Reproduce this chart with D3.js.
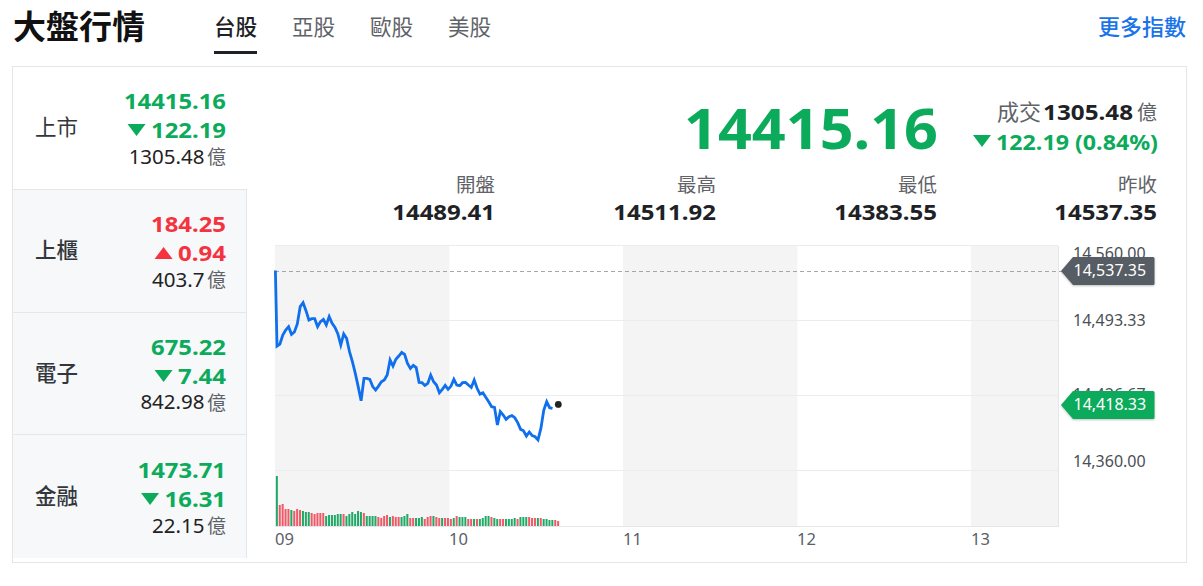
<!DOCTYPE html>
<html lang="zh-Hant"><head><meta charset="utf-8">
<script src="https://cdn.jsdelivr.net/npm/d3@7/dist/d3.min.js"></script>
<style>
html,body{margin:0;padding:0;background:#fff;overflow:hidden}
svg{display:block}
text{font-family:"Noto Sans","Noto Sans CJK TC",sans-serif}
</style></head><body><svg id="c" width="1203" height="586"></svg>
<script>
const tabs=["台股","亞股","歐股","美股"];
const markets=["上市","上櫃","電子","金融"];
const marketValues=["14415.16","184.25","675.22","1473.71"];
const marketChanges=["122.19","0.94","7.44","16.31"];
const marketDirections=["down","up","down","down"];
const marketTurnover=["1305.48","403.7","842.98","22.15"];
const statLabels=["開盤","最高","最低","昨收"];
const statValues=["14489.41","14511.92","14383.55","14537.35"];
const hourLabels=["09","10","11","12","13"];
const hourMinutes=[0,60,120,180,240];
const yTicks=[14560,14493.33,14426.67,14360];
const prevClose=14537.35;
const lastPrice=14418.33;
const prices=[14537.35,14470.2,14472.0,14480.0,14484.4,14487.4,14480.6,14482.7,14489.8,14505.2,14508.7,14501.6,14493.3,14494.5,14494.5,14487.4,14491.9,14493.9,14488.9,14496.3,14490.4,14486.8,14480.9,14471.1,14480.9,14477.0,14465.2,14456.3,14445.9,14434.1,14421.6,14441.4,14441.4,14440.6,14434.1,14431.1,14434.6,14438.5,14440.0,14444.4,14457.8,14452.4,14458.4,14461.3,14464.6,14462.8,14454.8,14450.3,14453.0,14451.0,14437.9,14437.6,14435.2,14437.0,14444.4,14438.5,14435.5,14428.7,14431.7,14435.2,14431.7,14434.6,14440.6,14435.5,14434.9,14437.6,14437.9,14435.5,14433.4,14440.0,14432.6,14427.5,14428.7,14424.6,14420.7,14416.3,14415.7,14400.0,14411.9,14408.9,14405.0,14407.4,14408.3,14406.5,14402.1,14396.1,14394.9,14390.2,14393.8,14390.5,14389.6,14386.7,14397.0,14413.3,14420.7,14415.4,14414.8];
const volumes=[50,21,22,17,17,16,15,17,16,15,14,14,13,12,13,13,13,10,11,11,11,12,12,12,10,12,14,12,15,14,13,10,10,10,10,9,8,10,11,9,10,9,9,9,10,12,8,8,8,8,9,7,9,10,10,9,8,8,8,8,7,8,10,9,9,9,7,7,7,7,7,8,10,10,9,8,7,7,7,7,7,7,8,7,9,9,9,9,8,8,8,8,7,7,6,6,6,5];
const volumeSides=["g","r","r","r","r","g","r","r","r","g","g","g","r","r","r","r","r","g","g","g","g","g","g","r","g","g","g","g","g","g","r","g","g","g","g","r","r","r","r","g","r","r","r","g","g","g","r","r","g","g","g","r","r","r","g","r","r","g","r","r","r","g","r","g","g","g","r","r","g","r","g","g","g","g","r","g","g","r","r","g","g","g","g","r","g","g","g","r","r","r","g","r","g","g","g","g","r","r"];

const GREEN="#0cab5c",RED="#f5333f",INK="#1e2226",GREY="#5f6368";
const svg=d3.select("#c");
// sp widens a number's glyphs by sp pixels per character, as the reference's wider digits
const T=(s,x,y,size,fill,weight,anchor,sp)=>{
  const t=svg.append("text").attr("x",x).attr("y",y).attr("font-size",size).attr("fill",fill).attr("font-weight",weight||400).attr("text-anchor",anchor||"start").text(s);
  let w=t.node().getComputedTextLength();
  if(sp){w+=sp*s.length;t.attr("textLength",w).attr("lengthAdjust","spacingAndGlyphs");}
  t.width=w;return t;};
const tri=(cx,cy,w,h,up,fill)=>svg.append("path").attr("d",up?`M${cx-w/2},${cy+h/2}L${cx+w/2},${cy+h/2}L${cx},${cy-h/2}Z`:`M${cx-w/2},${cy-h/2}L${cx+w/2},${cy-h/2}L${cx},${cy+h/2}Z`).attr("fill",fill);

// header
T("大盤行情",13,38.5,33,"#111",700);
const tabX=d3.scalePoint().domain(tabs).range([214,448]);
tabs.forEach((t,i)=>T(t,tabX(t),34.5,21.5,i?GREY:INK,i?400:500));
svg.append("rect").attr("x",214).attr("y",51).attr("width",43).attr("height",3).attr("fill",INK);
T("更多指數",1186,34.5,22,"#1a73e8",500,"end");

// frame
svg.append("rect").attr("x",12.5).attr("y",66.5).attr("width",1174).attr("height",496).attr("fill","#fff").attr("stroke","#e4e6ea");
const rowTops=[67,190,313,435,558];
markets.forEach((m,i)=>{
  const y0=rowTops[i],y1=rowTops[i+1];
  if(i>0){
    svg.append("rect").attr("x",13).attr("y",y0).attr("width",233.5).attr("height",y1-y0).attr("fill","#f6f8fa");
    svg.append("path").attr("d",`M13,${y0-.5}H247`).attr("stroke","#e4e6ea");
    svg.append("path").attr("d",`M246.5,${y0-1}V${y1}`).attr("stroke","#e4e6ea");
  }
  const b=y0+(i==3?1:0);
  const col=marketDirections[i]=="up"?RED:GREEN;
  T(m,35,b+68,21.5,"#33373b",i?500:400);
  T(marketValues[i],226,b+42,21,col,700,"end",1.5);
  const ch=T(marketChanges[i],226,b+71,21,col,700,"end",1.5);
  tri(226-ch.width-14.5,b+63,18,12,marketDirections[i]=="up",col);
  T("億",226,b+97,19,GREY,400,"end");
  T(marketTurnover[i],204.5,b+(i==2?96:97),20.5,"#222",400,"end");
});

// quote
T("14415.16",938,148.5,56,GREEN,700,"end",1.75);
T("億",1157,120,20,GREY,400,"end");
T("1305.48",1133,120,21,INK,700,"end",1.7);
T("成交",1041,120,22,GREY,400,"end");
T("122.19 (0.84%)",1158,150,21,GREEN,700,"end",1.1);
tri(982,141,18,12,false,GREEN);
const statX=[495,716,937,1157];
statLabels.forEach((s,i)=>{T(s,statX[i],192,19.5,GREY,400,"end");T(statValues[i],statX[i],220,21,INK,700,"end",1.6);});

// chart
const x=d3.scaleLinear().domain([0,270]).range([275.4,1058.4]);
const y=d3.scaleLinear().domain([14360,14560]).range([470,245]);
const v=d3.scaleLinear().domain([0,50]).range([526,476]);
[[0,60],[120,180],[240,270]].forEach(([a,b])=>svg.append("rect").attr("x",x(a)-.4).attr("y",246).attr("width",x(b)-x(a)+.4).attr("height",281).attr("fill","#f4f4f5"));
svg.selectAll(".gl").data(yTicks).join("line").attr("x1",275).attr("x2",1058).attr("y1",d=>y(d)+.5).attr("y2",d=>y(d)+.5).attr("stroke","#ebecee");
svg.append("line").attr("x1",275).attr("x2",1058).attr("y1",526.5).attr("y2",526.5).attr("stroke","#e4e6ea");
svg.append("line").attr("x1",1058.5).attr("x2",1058.5).attr("y1",246).attr("y2",527).attr("stroke","#e4e6ea");
// y ticks: label offsets from their gridlines, as the reference staggers them
const fmt=d3.format(",.2f");
const tickOffset=d3.scaleOrdinal().domain(yTicks).range([14,6,5,-3]);
svg.selectAll(".yl").data(yTicks).join("text").attr("x",1073).attr("y",d=>y(d)+tickOffset(d)).attr("font-size",16).attr("fill","#4a4f55").text(fmt);
// x ticks
hourLabels.forEach((h,i)=>T(h,x(hourMinutes[i])-.4,545,15.5,"#5a6066",400,"start",0.6));
// volume
svg.selectAll(".vb").data(volumes).join("rect").attr("x",(d,i)=>x(i+.5)-1).attr("y",d=>v(d)).attr("width",2).attr("height",d=>v(0)-v(d)).attr("fill",(d,i)=>volumeSides[i]=="g"?"#1fa866":"#ee5a66");
// prev close
svg.append("line").attr("x1",275).attr("x2",1062).attr("y1",271.5).attr("y2",271.5).attr("stroke","#a3a6aa").attr("stroke-dasharray","4,3");
// price line
const lineMinutes=prices.map((p,i)=>i==0?0:i-.45);
svg.append("path").datum(prices).attr("fill","none").attr("stroke","#0f6fec").attr("stroke-width",2.8).attr("stroke-linejoin","miter")
 .attr("d",d3.line().x((d,i)=>x(lineMinutes[i])).y(d=>y(d)));
svg.append("circle").attr("cx",x(lineMinutes[prices.length-1]+2)).attr("cy",y(lastPrice)).attr("r",3.4).attr("fill","#222");
// price tags
const tag=(val,fill)=>{
  const c=y(val)+.5;
  svg.append("path").attr("d",`M1061,${c}L1073,${c-14}H1153a1.5,1.5 0 0 1 1.5,1.5V${c+12.5}a1.5,1.5 0 0 1 -1.5,1.5H1073Z`).attr("fill",fill).style("filter","drop-shadow(0 1px 1px rgba(0,0,0,.25))");
  T(fmt(val),1073.5,c+5.5,16,"#fff");
};
tag(prevClose,"#565d64");
tag(lastPrice,GREEN);
</script></body></html>
